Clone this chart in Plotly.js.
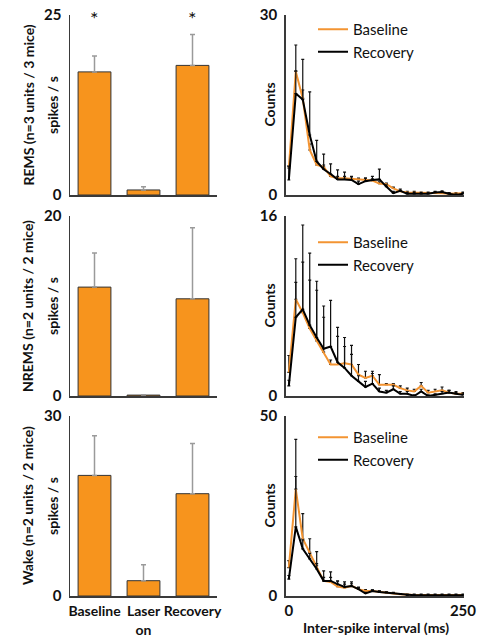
<!DOCTYPE html>
<html><head><meta charset="utf-8">
<script src="https://cdn.plot.ly/plotly-3.0.1.min.js"></script>
<style>html,body{margin:0;padding:0;background:#fff}#chart{width:483px;height:639px}</style>
</head><body><div id="chart"></div>
<script>
// ---- data ----
const conditions = ['Baseline', 'Laser on', 'Recovery'];
const conditionLabels = ['Baseline', 'Laser<br>on', 'Recovery'];
const remsRate = [17.1, 0.7, 18.0];
const remsRateErr = [2.2, 0.45, 4.3];
const nremsRate = [12.1, 0.1, 10.8];
const nremsRateErr = [3.8, 0.05, 7.9];
const wakeRate = [20.1, 2.55, 17.05];
const wakeRateErr = [6.6, 2.65, 8.35];
const starred = ['Baseline', 'Recovery'];

const isiBins = [0, 10, 20, 30, 40, 50, 60, 70, 80, 90, 100, 110, 120, 130, 140, 150, 160, 170, 180, 190, 200, 210, 220, 230, 240, 250];

const remsBase = [4.5, 20.6, 16.1, 7.5, 5.0, 4.7, 3.1, 2.8, 2.8, 2.7, 2.6, 2.5, 2.4, 1.9, 1.8, 1.1, 0.6, 0.4, 0.4, 0.3, 0.3, 0.3, 0.3, 0.2, 0.2, 0.3];
const remsBaseErr = [0.3, 4.4, 1.4, 1.0, 0.5, 0.3, 0.3, 0.3, 0.3, 0.3, 0.2, 0.3, 0.3, 0.3, 0.2, 0.2, 0.2, 0.2, 0.2, 0.2, 0.2, 0.2, 0.2, 0.2, 0.2, 0.2];
const remsRec = [2.5, 16.9, 15.9, 10.0, 5.6, 4.3, 3.5, 2.6, 2.6, 2.5, 1.8, 2.3, 2.5, 2.6, 1.4, 0.3, 0.7, 0.2, 0.2, 0.2, 0.2, 0.4, 0.5, 0.2, 0.0, 0.2];
const remsRecErr = [2.3, 3.8, 6.7, 7.2, 3.5, 2.5, 1.7, 1.6, 1.2, 0.6, 0.5, 0.5, 0.6, 1.7, 0.3, 0.3, 0.3, 0.2, 0.2, 0.2, 0.2, 0.2, 0.2, 0.2, 0.2, 0.2];

const nremsBase = [2.1, 8.6, 7.4, 6.0, 4.9, 3.9, 2.8, 2.8, 2.9, 2.8, 1.9, 1.6, 1.8, 1.0, 1.0, 1.0, 0.7, 0.5, 0.4, 0.9, 0.3, 0.4, 0.5, 0.3, 0.2, 0.2];
const nremsBaseErr = [1.5, 3.6, 4.5, 4.3, 4.5, 3.1, 0.4, 2.5, 1.5, 0.9, 0.9, 0.6, 0.4, 0.9, 0.1, 0.1, 0.2, 0.2, 0.2, 0.3, 0.2, 0.2, 0.3, 0.2, 0.2, 0.1];
const nremsRec = [0.9, 7.0, 7.7, 6.3, 5.2, 4.2, 4.4, 3.0, 2.5, 1.8, 1.3, 0.8, 1.1, 0.4, 0.3, 0.6, 0.2, 0.2, 0.0, 0.4, 0.0, 0.1, 0.2, 0.3, 0.2, 0.1];
const nremsRecErr = [0.5, 3.1, 7.5, 6.4, 5.0, 3.8, 4.1, 3.1, 2.7, 2.7, 0.5, 0.5, 0.9, 0.3, 0.2, 0.3, 0.2, 0.2, 0.1, 0.2, 0.1, 0.1, 0.2, 0.2, 0.1, 0.1];

const wakeBase = [7.9, 29.7, 15.9, 12.1, 8.4, 4.2, 3.9, 2.6, 2.3, 2.8, 1.9, 1.4, 1.4, 1.1, 0.9, 0.7, 0.5, 0.3, 0.3, 0.3, 0.3, 0.3, 0.3, 0.3, 0.3, 0.3];
const wakeBaseErr = [1.9, 13.8, 7.0, 3.8, 3.9, 2.8, 2.8, 1.6, 1.6, 1.1, 0.6, 0.4, 0.3, 0.3, 0.3, 0.3, 0.2, 0.2, 0.2, 0.2, 0.2, 0.2, 0.2, 0.2, 0.2, 0.2];
const wakeRec = [4.7, 19.2, 13.1, 10.3, 7.5, 4.2, 4.2, 3.3, 2.5, 2.8, 1.9, 0.7, 1.4, 1.1, 0.9, 0.7, 0.5, 0.2, 0.2, 0.2, 0.2, 0.2, 0.2, 0.2, 0.2, 0.2];
const wakeRecErr = [1.0, 14.0, 2.5, 1.5, 1.5, 1.0, 1.0, 0.8, 0.8, 0.6, 0.4, 0.3, 0.3, 0.3, 0.2, 0.2, 0.2, 0.2, 0.2, 0.2, 0.2, 0.2, 0.2, 0.2, 0.2, 0.2];

const isiTicks = [0, 250];

// ---- style ----
const W = 483, H = 639;
const FONT = 'Lato, "Open Sans", sans-serif';
const ORANGE_BAR = '#F7941D';
const ORANGE_LINE = '#F39432';
const AXIS = '#3a3a3a';
const px = v => v / W;
const py = v => 1 - v / H;

const leftDom = [px(70), px(217)];
const rightDom = [px(285.7), px(464)];
const rows = [[15, 195], [216, 396], [416, 596]];
const yDom = r => [py(r[1]), py(r[0])];

function barTrace(vals, errs, n) {
  return {
    type: 'bar', x: conditions, y: vals,
    xaxis: 'x' + (n === 1 ? '' : n), yaxis: 'y' + (n === 1 ? '' : n),
    width: 0.67,
    marker: {color: ORANGE_BAR, line: {color: '#333', width: 1}},
    error_y: {type: 'data', array: errs, symmetric: false, arrayminus: errs.map(() => 0),
      color: '#9a9a9a', thickness: 1.5, width: 2.5},
    showlegend: false, hoverinfo: 'skip'
  };
}
function lineTrace(name, vals, errs, n, color, legendId) {
  return {
    type: 'scatter', mode: 'lines', name: name, x: isiBins, y: vals,
    xaxis: 'x' + n, yaxis: 'y' + n,
    line: {color: color, width: 2},
    error_y: {type: 'data', array: errs, symmetric: false, arrayminus: errs.map(() => 0),
      color: '#111', thickness: 1.2, width: 1.5},
    legend: legendId, showlegend: true, hoverinfo: 'skip'
  };
}

const data = [
  barTrace(remsRate, remsRateErr, 1),
  lineTrace('Baseline', remsBase, remsBaseErr, 2, ORANGE_LINE, 'legend'),
  lineTrace('Recovery', remsRec, remsRecErr, 2, '#000', 'legend'),
  barTrace(nremsRate, nremsRateErr, 3),
  lineTrace('Baseline', nremsBase, nremsBaseErr, 4, ORANGE_LINE, 'legend2'),
  lineTrace('Recovery', nremsRec, nremsRecErr, 4, '#000', 'legend2'),
  barTrace(wakeRate, wakeRateErr, 5),
  lineTrace('Baseline', wakeBase, wakeBaseErr, 6, ORANGE_LINE, 'legend3'),
  lineTrace('Recovery', wakeRec, wakeRecErr, 6, '#000', 'legend3')
];

const tickFont = {family: FONT, size: 15, color: '#111', weight: 'bold'};
function xBar(dom, showLabels) {
  return {domain: dom, type: 'category', range: [-0.5, 2.5],
    showline: true, linecolor: AXIS, linewidth: 1.5, showgrid: false, zeroline: false,
    ticks: '', showticklabels: showLabels, tickvals: conditions, ticktext: conditionLabels,
    tickangle: 0, ticklabelstandoff: 2,
    tickfont: {family: FONT, size: 14, color: '#111', weight: 'bold'}, fixedrange: true};
}
function yAx(dom, max, anchor) {
  return {domain: dom, anchor: anchor, range: [0, max], tickvals: [0, max],
    showline: true, linecolor: AXIS, linewidth: 1.5, showgrid: false, zeroline: false,
    ticks: '', ticklabelstandoff: 4, tickfont: tickFont, fixedrange: true};
}
function xIsi(dom, anchor, showLabels) {
  return {domain: dom, anchor: anchor, range: [-4.5, 251.5], tickvals: isiTicks,
    showline: true, linecolor: AXIS, linewidth: 1.5, showgrid: false, zeroline: false,
    ticks: '', tickangle: 0, showticklabels: showLabels, tickfont: tickFont, fixedrange: true};
}

const titleFont = {family: FONT, size: 14, color: '#111', weight: 'bold'};
function vTitle(text, xpx, row) {
  return {text: text, xref: 'paper', yref: 'paper', x: px(xpx), y: py((row[0] + row[1]) / 2),
    textangle: -90, showarrow: false, font: titleFont, xanchor: 'center', yanchor: 'middle'};
}
const annotations = [
  vTitle('REMS (n=3 units / 3 mice)', 27.5, rows[0]),
  vTitle('spikes / s', 52, rows[0]),
  vTitle('NREMS (n=2 units / 2 mice)', 27, rows[1]),
  vTitle('spikes / s', 52, rows[1]),
  vTitle('Wake (n=2 units / 2 mice)', 27, rows[2]),
  vTitle('spikes / s', 52, rows[2]),
  vTitle('Counts', 268.5, rows[0]),
  vTitle('Counts', 268.5, rows[1]),
  vTitle('Counts', 268.5, rows[2]),
  {text: 'Inter-spike interval (ms)', xref: 'paper', yref: 'paper', x: px(376), y: py(627),
    showarrow: false, font: titleFont, xanchor: 'center', yanchor: 'middle'}
].concat(starred.map(c => ({text: '*', xref: 'x', yref: 'y', x: c, y: 24.6,
    showarrow: false, font: {family: FONT, size: 20, color: '#111'}, yanchor: 'middle'})));

const legendFont = {family: FONT, size: 15, color: '#111'};
function leg(topPx) {
  return {x: px(313), y: py(topPx), xanchor: 'left', yanchor: 'top', font: legendFont,
    bgcolor: 'rgba(0,0,0,0)', borderwidth: 0, tracegroupgap: 0, itemclick: false};
}

const layout = {
  width: W, height: H, margin: {l: 0, r: 0, t: 0, b: 0},
  paper_bgcolor: '#fff', plot_bgcolor: '#fff', bargap: 0.33,
  font: {family: FONT},
  xaxis: Object.assign(xBar(leftDom, false), {anchor: 'y'}),
  yaxis: yAx(yDom(rows[0]), 25, 'x'),
  xaxis2: xIsi(rightDom, 'y2', false),
  yaxis2: yAx(yDom(rows[0]), 30, 'x2'),
  xaxis3: Object.assign(xBar(leftDom, false), {anchor: 'y3'}),
  yaxis3: yAx(yDom(rows[1]), 20, 'x3'),
  xaxis4: xIsi(rightDom, 'y4', false),
  yaxis4: yAx(yDom(rows[1]), 16, 'x4'),
  xaxis5: Object.assign(xBar(leftDom, true), {anchor: 'y5'}),
  yaxis5: yAx(yDom(rows[2]), 30, 'x5'),
  xaxis6: xIsi(rightDom, 'y6', true),
  yaxis6: yAx(yDom(rows[2]), 50, 'x6'),
  legend: leg(13),
  legend2: leg(226),
  legend3: leg(421),
  annotations: annotations,
  showlegend: true
};

Plotly.newPlot('chart', data, layout, {displayModeBar: false, staticPlot: true});
</script></body></html>
